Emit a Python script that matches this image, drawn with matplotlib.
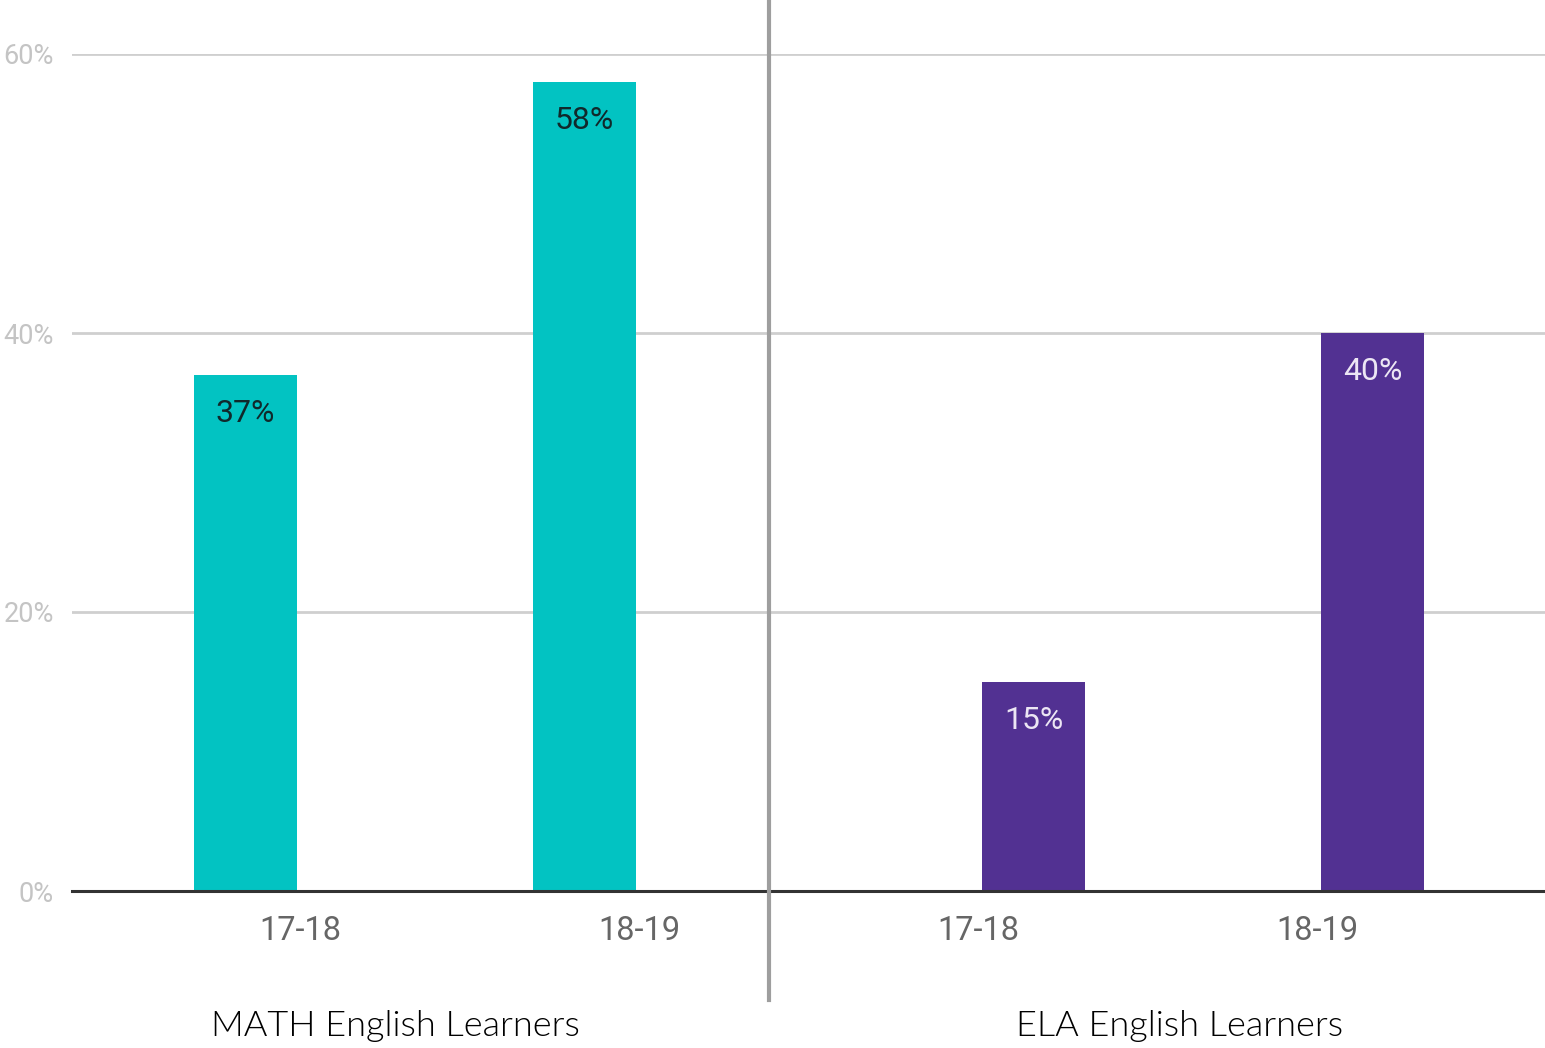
import matplotlib.pyplot as plt
from matplotlib.lines import Line2D

# Data
years = ["17-18", "18-19", "17-18", "18-19"]
values = [37, 58, 15, 40]
groups = ["MATH English Learners", "ELA English Learners"]
teal = "#02c3c2"
purple = "#523192"
bar_colors = [teal, teal, purple, purple]
label_colors = ["#10292b", "#10292b", "#ece6f4", "#ece6f4"]

fig = plt.figure(figsize=(15.45, 10.48), dpi=100)
ax = fig.add_axes([72 / 1545, 157 / 1048, 1473 / 1545, 837 / 1048])

pos = list(range(len(years)))
# MATH bars sit left of the category centre, ELA bars right of it
offsets = [-0.161, -0.161, 0.164, 0.164]
bars = ax.bar([p + o for p, o in zip(pos, offsets)], values, width=0.304, color=bar_colors, zorder=3)

for b, v, c in zip(bars, values, label_colors):
    ax.text(b.get_x() + b.get_width() / 2, v - 2.75, f"{v}%", ha="center", va="center",
            fontsize=23, color=c, family="Roboto", zorder=4)

ax.set_xlim(-0.673, 3.672)
ax.set_ylim(0, 60)
ax.set_yticks([0, 20, 40, 60])
ax.set_yticklabels(["0%", "20%", "40%", "60%"], family="Roboto", fontsize=19.5, color="#c4c4c4")
ax.set_xticks(pos)
ax.set_xticklabels(years, family="Roboto", fontsize=23.5, color="#666666")
ax.tick_params(axis="both", length=0)
ax.tick_params(axis="y", pad=13)
ax.tick_params(axis="x", pad=17)
ax.grid(axis="y", color="#cfcfcf", linewidth=2, zorder=0)
for s in ["top", "right", "left"]:
    ax.spines[s].set_visible(False)
ax.spines["bottom"].set_color("#333333")
ax.spines["bottom"].set_linewidth(2.2)
ax.spines["bottom"].set_zorder(5)

# divider between the two groups
fig.add_artist(Line2D([769 / 1545, 769 / 1545], [48 / 1048, 1.0], color="#9e9e9e",
                      linewidth=3, transform=fig.transFigure))

fig.text(395 / 1545, 1 - 1026 / 1048, groups[0], ha="center", va="center",
         family="Lato", fontweight=300, fontsize=26, color="#000000")
fig.text(1180 / 1545, 1 - 1026 / 1048, groups[1], ha="center", va="center",
         family="Lato", fontweight=300, fontsize=26, color="#000000")

plt.savefig("out.png", dpi=100)
